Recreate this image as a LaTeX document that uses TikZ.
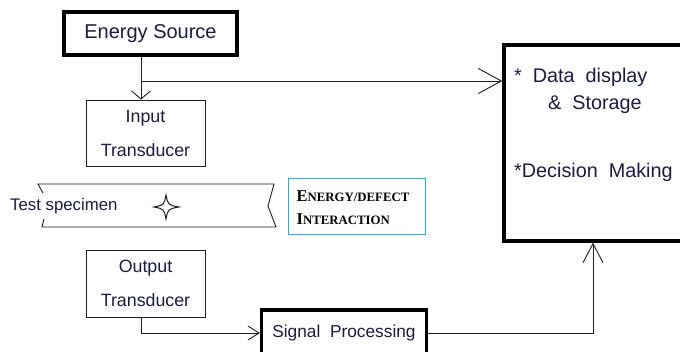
\documentclass[tikz,border=0pt]{standalone}
\usepackage{fontspec}
\setmainfont{Liberation Sans}
\newfontfamily\ndtserif{Liberation Serif}
\usetikzlibrary{arrows.meta,positioning}
\definecolor{ndtink}{RGB}{28,28,64}
\definecolor{ndtline}{RGB}{30,30,30}
\definecolor{ndtblue}{RGB}{45,170,230}
\newcommand{\ndtfs}[1]{\fontsize{#1}{#1}\selectfont}
\newcommand{\ndtcap}[1]{{\fontsize{16.5}{23}\selectfont #1}}

\begin{document}
\begin{tikzpicture}[x=1pt,y=-1pt,every node/.style={text=ndtink,inner sep=0pt},
        box/.style={draw=ndtline,line width=0.9pt,minimum width=119pt,minimum height=66pt,align=center,
                    font=\fontsize{17.8}{34}\selectfont},
        heavybox/.style={draw=black,line width=3.4pt},
        feed/.style args={#1x#2}{draw=ndtline,line width=0.9pt,-{Straight Barb[length=#1pt,width=#2pt]}}]
      \clip (0,0) rectangle (680,352);
      \fill[white] (0,0) rectangle (680,352);
      % blocks
      \node[heavybox,minimum width=173pt,minimum height=43pt,font=\ndtfs{20}] (src) at (150.5,33.5) {Energy Source};
      \node[box] (inp) at (145.5,133) {Input\\Transducer};
      \node[box,minimum height=67pt] (out) at (145.5,283.5) {Output\\Transducer};
      \node[heavybox,minimum width=165pt,minimum height=46pt,font=\ndtfs{17.3}] (sig) at (344,333) {Signal\ \ Processing};
      \node[heavybox,minimum width=196pt,minimum height=196pt] (data) at (602,143) {};
      \node[anchor=base west,font=\ndtfs{19.8}] (disp) at (514,83) {*\ \ Data\ \ display};
      \node[anchor=base west,font=\ndtfs{19.8}] (stor) at (548,110) {\&\ \ Storage};
      \node[anchor=base west,font=\ndtfs{19.8}] (dec) at (514,178) {*Decision\ \ Making};
      \node[draw=ndtblue,line width=1pt,minimum width=137pt,minimum height=56pt] (intr) at (356.5,207) {};
      \node[align=left,text=black,font=\ndtserif\bfseries\fontsize{12.8}{23}\selectfont] (intrtxt) at (353,208)
        {\ndtcap{E}NERGY/DEFECT\\\ndtcap{I}NTERACTION};
      % test specimen
      \draw[ndtline,line width=0.9pt] (43,193) -- (38,184) -- (274,184) -- (268,206) -- (276,227) -- (42,227) -- (44,219);
      \node[anchor=base west,font=\ndtfs{16.8}] (spec) at (10,211) {Test specimen};
      \draw[ndtline,line width=1pt] (154,207) .. controls (164,205) .. (166,195) .. controls (168,205) .. (179,207)
        .. controls (168,209) .. (166,219) .. controls (164,209) .. (154,207) -- cycle;
      % connectors
      \coordinate (br) at (141,81);
      \draw[ndtline,line width=0.9pt] (src.south -| br) -- (br);
      \draw[feed=8x19] (br) -- (inp.north -| br);
      \draw[feed=23x25] (br) -- (data.west |- br);
      \draw[feed=11x14] ([xshift=-4pt]out.south) |- (sig.west);
      \draw[feed=19x20] (sig.east) -| ([xshift=-9pt]data.south);
    \end{tikzpicture}
\end{document}
